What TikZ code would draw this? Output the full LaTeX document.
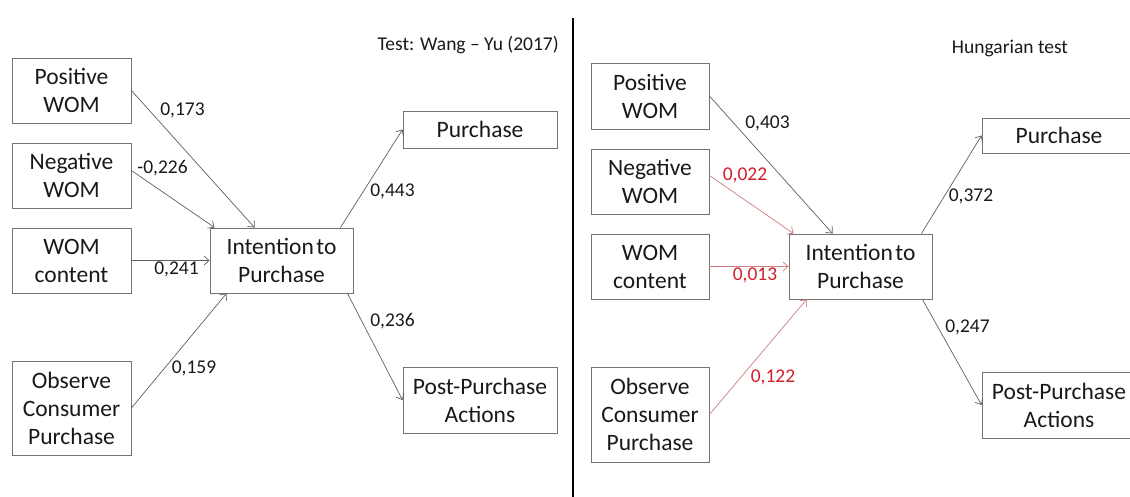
\documentclass[tikz,border=0pt]{standalone}
\usepackage{fontspec}
\setmainfont{Carlito}
\usetikzlibrary{arrows.meta,calc}
\definecolor{boxgray}{RGB}{115,115,115}
\definecolor{arrgray}{RGB}{95,95,95}
\definecolor{lblred}{RGB}{210,30,40}
\definecolor{arrred}{RGB}{205,125,125}
\definecolor{txt}{RGB}{25,25,25}
\tikzset{
  box/.style={draw=boxgray, line width=0.9pt, inner sep=0pt, align=center, text=txt,
    font=\fontsize{23.5}{28}\selectfont},
  lbl/.style={inner sep=0pt, text=txt, font=\fontsize{19.5}{23}\selectfont},
  redlbl/.style={lbl, text=lblred},
  conn/.style={draw=arrgray, line width=0.7pt, -{Straight Barb[length=5pt,width=9pt]}},
  redconn/.style={conn, draw=arrred},
}
\begin{document}
\begin{tikzpicture}[x=1pt,y=-1pt]
\useasboundingbox (0,0) rectangle (1130,497);
\clip (0,0) rectangle (1130,497);
% ---------- left panel ----------
\node[box, minimum width=119, minimum height=65] (lpos) at (71.5,90.5) {Positive\\WOM};
\node[box, minimum width=119, minimum height=65] (lneg) at (71.5,175.5) {Negative\\WOM};
\node[box, minimum width=119, minimum height=65] (lcon) at (71.5,260.5) {WOM\\content};
\node[box, minimum width=119, minimum height=94] (lobs) at (71.5,408) {Observe\\Consumer\\Purchase};
\node[box, minimum width=143, minimum height=65] (lint) at (281.5,260.5) {Intention\hspace{-0.12em} to\\Purchase};
\node[box, minimum width=154, minimum height=37] (lpur) at (480,129.5) {Purchase};
\node[box, minimum width=154, minimum height=66] (lpost) at (480,400) {Post-Purchase\\Actions};
\node[lbl, anchor=east] (ltitle) at (559,45) {Test: Wang – Yu (2017)};

\draw[conn] (lpos.east) -- ([xshift=45pt]lint.north west);
\draw[conn] ([yshift=5pt]lneg.east) -- ([xshift=5pt]lint.north west);
\draw[conn] (lcon.east) -- (lint.west);
\draw[conn] (lobs.east) -- ([xshift=17pt]lint.south west);
\draw[conn] ([xshift=-13pt]lint.north east) -- (lpur.west);
\draw[conn] ([xshift=-6pt]lint.south east) -- (lpost.west);

\node[lbl] (l1) at (182.5,110) {0,173};
\node[lbl] (l2) at (162.5,168) {-0,226};
\node[lbl] (l3) at (176.5,269) {0,241};
\node[lbl] (l4) at (194,368) {0,159};
\node[lbl] (l5) at (392.5,191) {0,443};
\node[lbl] (l6) at (392.5,321) {0,236};

% ---------- divider ----------
\coordinate (dtop) at (573,18);
\coordinate (dbot) at (573,497);
\draw[line width=2pt, black] (dtop) -- (dbot);

% ---------- right panel ----------
\node[box, minimum width=118, minimum height=66] (rpos) at (650,96) {Positive\\WOM};
\node[box, minimum width=118, minimum height=65] (rneg) at (650,181.5) {Negative\\WOM};
\node[box, minimum width=118, minimum height=65] (rcon) at (650,266.5) {WOM\\content};
\node[box, minimum width=118, minimum height=95] (robs) at (650,414.5) {Observe\\Consumer\\Purchase};
\node[box, minimum width=143, minimum height=65] (rint) at (860.5,266.5) {Intention\hspace{-0.12em} to\\Purchase};
\node[box, minimum width=154, minimum height=35] (rpur) at (1059,135.5) {Purchase};
\node[box, minimum width=154, minimum height=66] (rpost) at (1059,405) {Post-Purchase\\Actions};
\node[lbl] (rtitle) at (1010,48) {Hungarian test};

\draw[conn] (rpos.east) -- ([xshift=44pt]rint.north west);
\draw[redconn] ([yshift=6pt]rneg.east) -- ([xshift=5pt]rint.north west);
\draw[redconn] (rcon.east) -- (rint.west);
\draw[redconn] (robs.east) -- ([xshift=18pt]rint.south west);
\draw[conn] ([xshift=-11pt]rint.north east) -- (rpur.west);
\draw[conn] ([xshift=-10pt]rint.south east) -- (rpost.west);

\node[lbl] (r1) at (767.5,123) {0,403};
\node[redlbl] (r2) at (745,175) {0,022};
\node[redlbl] (r3) at (755,275) {0,013};
\node[redlbl] (r4) at (773,377) {0,122};
\node[lbl] (r5) at (971,196) {0,372};
\node[lbl] (r6) at (967.5,327) {0,247};
\end{tikzpicture}
\end{document}
